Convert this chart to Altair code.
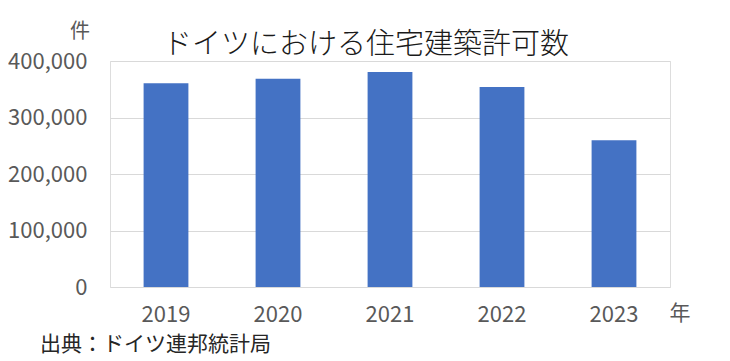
import altair as alt
import pandas as pd

years = ["2019", "2020", "2021", "2022", "2023"]
permits = [360493, 368589, 380736, 354163, 259595]

title_text = "ドイツにおける住宅建築許可数"
y_unit = "件"
x_unit = "年"
source_text = "出典：ドイツ連邦統計局"

FONT = "Noto Sans CJK JP"
GRAY = "#595959"

df = pd.DataFrame({"year": years, "permits": permits})

bars = alt.Chart(df).mark_bar(color="#4472C4").encode(
    x=alt.X("year:N", sort=years,
            scale=alt.Scale(paddingInner=0.6, paddingOuter=0.3),
            axis=alt.Axis(title=None, labelAngle=0, domain=False, ticks=False,
                          labelPadding=17, labelFontSize=22, labelColor=GRAY,
                          labelFont=FONT)),
    y=alt.Y("permits:Q", scale=alt.Scale(domain=[0, 400000]),
            axis=alt.Axis(title=None, values=[0, 100000, 200000, 300000, 400000],
                          format=",d", domain=False, ticks=False, labelPadding=23,
                          labelFontSize=22, labelColor=GRAY, labelFont=FONT,
                          grid=True, gridColor="#d9d9d9", gridWidth=1)),
)

def txt(s, x, y, size, align="center", color=GRAY, weight=400):
    return alt.Chart(pd.DataFrame({"t": [s]})).mark_text(
        font=FONT, fontSize=size, align=align, baseline="middle", color=color,
        fontWeight=weight
    ).encode(text="t:N", x=alt.value(x), y=alt.value(y))

chart = alt.layer(
    bars,
    txt(title_text, 256, -16, 29, color="#1a1a1a", weight=300),
    txt(y_unit, -30, -29, 20),
    txt(x_unit, 570, 253, 21),
    txt(source_text, -70, 284, 21, align="left", color="#262626"),
).properties(
    width=560, height=226,
    autosize=alt.AutoSizeParams(type="none"),
    padding={"left": 102, "top": 53, "right": 52, "bottom": 74},
).configure_view(stroke=None).configure(background="white")

chart.save("out.html", embed_options={"renderer": "svg", "actions": False})
